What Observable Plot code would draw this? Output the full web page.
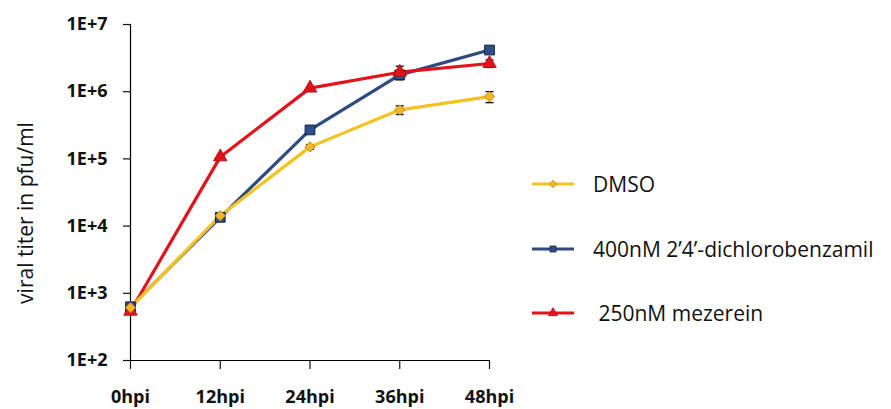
<!DOCTYPE html>
<html>
<head>
<meta charset="utf-8">
<script src="https://cdn.jsdelivr.net/npm/d3@7"></script>
<script src="https://cdn.jsdelivr.net/npm/@observablehq/plot@0.6"></script>
<style>
  html, body { margin: 0; padding: 0; background: #fff; }
  #wrap { position: relative; width: 891px; height: 409px; font-family: "Open Sans", sans-serif; overflow: hidden; }
  #ytitle { position: absolute; left: 25px; top: 213px; transform: translate(-50%, -50%) rotate(-90deg);
            white-space: nowrap; font-size: 21px; color: #111; }
  #legend { position: absolute; left: 532px; top: 168px; }
  .row { display: flex; align-items: center; height: 32px; margin-bottom: 32.5px; font-size: 21px; color: #111; white-space: nowrap; }
  .row svg { margin-right: 19px; }
</style>
</head>
<body>
<div id="wrap"></div>
<script>
const hours = [0, 12, 24, 36, 48];
const xLabels = ["0hpi", "12hpi", "24hpi", "36hpi", "48hpi"];
const yTicks = [1e2, 1e3, 1e4, 1e5, 1e6, 1e7];
const yTitle = "viral titer in pfu/ml";

const seriesNames = ["DMSO", "400nM 2\u20194\u2019-dichlorobenzamil", " 250nM mezerein"];
const dmso = [610, 14300, 151000, 537000, 845000];
const dcb  = [630, 13500, 270000, 1780000, 4170000];
const mez  = [540, 107000, 1130000, 1950000, 2630000];
const dmsoErr = [0, 0, 12000, 79000, 157000];
const dcbErr  = [0, 0, 0, 150000, 0];
const mezErr  = [0, 0, 0, 445000, 334000];

const lineColors = ["#F3C21F", "#2C4B7F", "#E3131C"];
const fillColors = ["#F1B62A", "#2F4F8C", "#E3131C"];
const edgeColors = ["#C98A12", "#14213D", "#B80E16"];
const symbols = ["diamond2", "square", "triangle"];
const radii = [4.6, 5.5, 5.0];

const values = [dmso, dcb, mez];
const errs = [dmsoErr, dcbErr, mezErr];
const rows = [];
seriesNames.forEach((s, i) => hours.forEach((h, j) => rows.push({series: s, idx: i, h, v: values[i][j], e: errs[i][j]})));
// draw order: blue, red, yellow
const order = [1, 2, 0];

const capSymbol = { draw(ctx, size) { const w = 4; ctx.moveTo(-w, 0); ctx.lineTo(w, 0); } };

const marks = [
  Plot.ruleX([0], {y1: 1e2, y2: 1e7, stroke: "#000", strokeWidth: 1.2}),
  Plot.ruleY([1e2], {x1: 0, x2: 48, stroke: "#000", strokeWidth: 1.2})
];
for (const i of order) {
  const d = rows.filter(r => r.idx === i);
  const de = d.filter(r => r.e > 0);
  marks.push(Plot.ruleX(de, {x: "h", y1: r => r.v - r.e, y2: r => r.v + r.e, stroke: "#111", strokeWidth: 1.2}));
  marks.push(Plot.dot(de, {x: "h", y: r => r.v + r.e, symbol: capSymbol, stroke: "#111", strokeWidth: 1.4, r: 3}));
  marks.push(Plot.dot(de, {x: "h", y: r => r.v - r.e, symbol: capSymbol, stroke: "#111", strokeWidth: 1.4, r: 3}));
  marks.push(Plot.line(d, {x: "h", y: "v", stroke: lineColors[i], strokeWidth: 3.2}));
}
for (const i of order) {
  const d = rows.filter(r => r.idx === i);
  marks.push(Plot.dot(d, {x: "h", y: "v", symbol: symbols[i], r: radii[i], fill: fillColors[i], stroke: edgeColors[i], strokeWidth: 1}));
}

const chart = Plot.plot({
  width: 891,
  height: 409,
  marginLeft: 130,
  marginRight: 402,
  marginTop: 24,
  marginBottom: 49,
  style: {fontFamily: "Open Sans, sans-serif", background: "#fff", color: "#111"},
  x: {domain: [0, 48], label: null},
  y: {type: "log", domain: [1e2, 1e7], label: null},
  marks: [
    Plot.axisX({ticks: hours, tickFormat: d => xLabels[hours.indexOf(d)], tickSize: 9, tickPadding: 21, fontSize: 18, fontWeight: "bold", label: null, strokeWidth: 1.2}),
    Plot.axisY({ticks: yTicks, tickFormat: d => "1E+" + Math.round(Math.log10(d)), tickSize: 7, tickPadding: 16, fontSize: 18, fontWeight: "bold", label: null, strokeWidth: 1.2}),
    ...marks
  ]
});

const wrap = document.getElementById("wrap");
wrap.appendChild(chart);

const t = document.createElement("div");
t.id = "ytitle";
t.textContent = yTitle;
wrap.appendChild(t);

const legend = document.createElement("div");
legend.id = "legend";
seriesNames.forEach((s, i) => {
  const row = document.createElement("div");
  row.className = "row";
  const sw = d3.create("svg").attr("width", 42).attr("height", 14);
  sw.append("line").attr("x1", 0).attr("x2", 42).attr("y1", 7).attr("y2", 7).attr("stroke", lineColors[i]).attr("stroke-width", 3);
  const symType = {diamond2: d3.symbolDiamond2, square: d3.symbolSquare, triangle: d3.symbolTriangle}[symbols[i]];
  sw.append("path").attr("transform", "translate(21,7)").attr("d", d3.symbol(symType, 36)())
    .attr("fill", fillColors[i]).attr("stroke", edgeColors[i]).attr("stroke-width", 0.8);
  row.appendChild(sw.node());
  const span = document.createElement("span");
  span.textContent = s;
  span.style.whiteSpace = "pre";
  row.appendChild(span);
  legend.appendChild(row);
});
wrap.appendChild(legend);
</script>
</body>
</html>
